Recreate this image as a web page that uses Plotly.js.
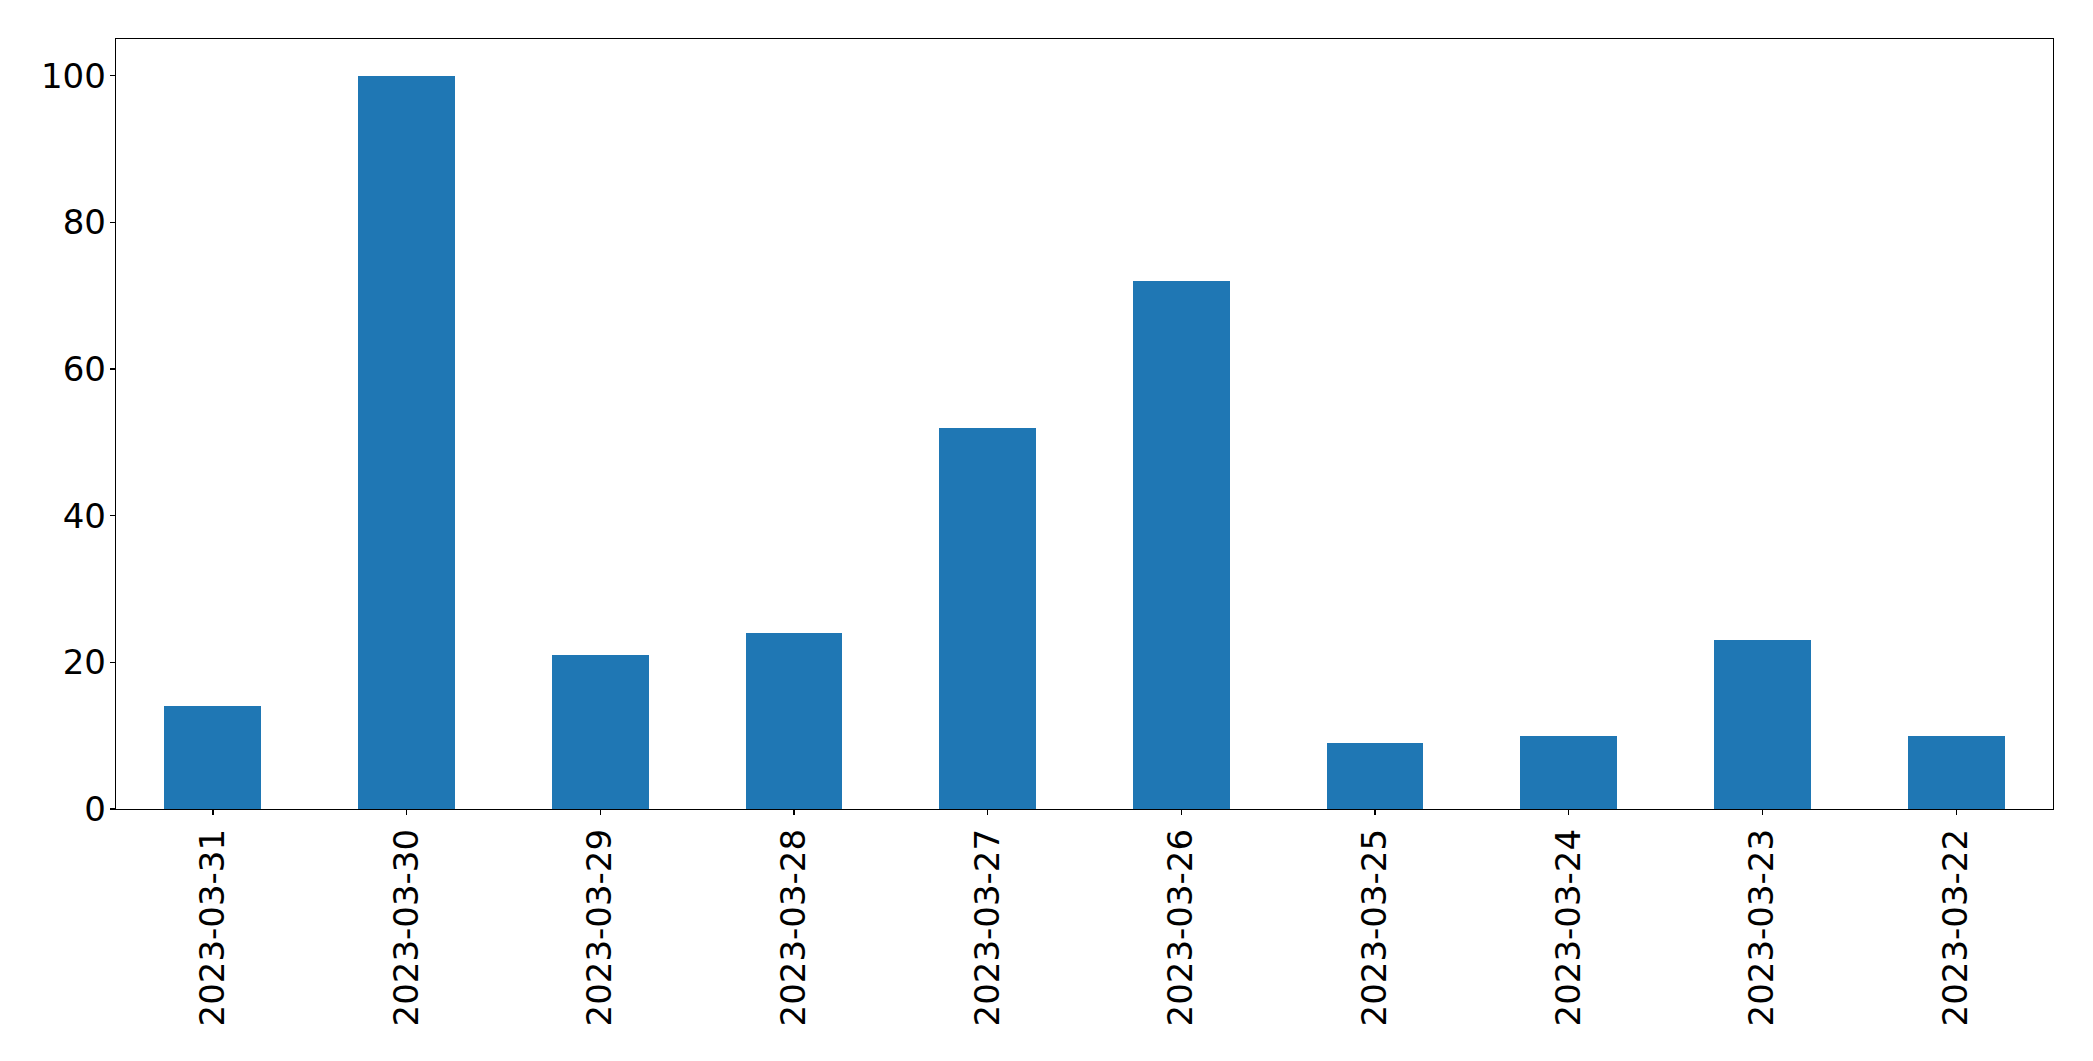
<!DOCTYPE html>
<html>
<head>
<meta charset="utf-8">
<script src="https://cdn.plot.ly/plotly-3.0.1.min.js"></script>
<style>
html,body{margin:0;padding:0;background:#fff;}
#chart{width:2093px;height:1061px;}
</style>
</head>
<body>
<div id="chart"></div>
<script>
const dates = ["2023-03-31","2023-03-30","2023-03-29","2023-03-28","2023-03-27","2023-03-26","2023-03-25","2023-03-24","2023-03-23","2023-03-22"];
const counts = [14, 100, 21, 24, 52, 72, 9, 10, 23, 10];
const yTicks = [0, 20, 40, 60, 80, 100];

const trace = {
  type: 'bar',
  x: dates,
  y: counts,
  width: 0.5,
  marker: {color: '#1f77b4', line: {width: 0}},
  hoverinfo: 'x+y'
};

const axisFont = {family: 'DejaVu Sans, sans-serif', size: 34, color: '#000'};

const layout = {
  width: 2093,
  height: 1061,
  margin: {l: 116, r: 40, t: 39, b: 252, pad: 0},
  paper_bgcolor: '#fff',
  plot_bgcolor: '#fff',
  showlegend: false,
  bargap: 0,
  xaxis: {
    type: 'category',
    range: [-0.5, 9.5],
    tickangle: -90,
    ticks: 'outside',
    ticklen: 5,
    tickwidth: 1.3,
    tickcolor: '#000',
    tickfont: axisFont,
    showgrid: false,
    zeroline: false,
    showline: true,
    linecolor: '#000',
    linewidth: 1.3,
    mirror: true,
    ticklabelstandoff: 0
  },
  yaxis: {
    range: [0, 105],
    tickmode: 'array',
    tickvals: yTicks,
    ticktext: yTicks.map(String),
    ticks: 'outside',
    ticklen: 5,
    tickwidth: 1.3,
    tickcolor: '#000',
    tickfont: axisFont,
    showgrid: false,
    zeroline: false,
    showline: true,
    linecolor: '#000',
    linewidth: 1.3,
    mirror: true,
    ticklabelstandoff: -3
  }
};

Plotly.newPlot('chart', [trace], layout, {displayModeBar: false, staticPlot: true});
</script>
</body>
</html>
